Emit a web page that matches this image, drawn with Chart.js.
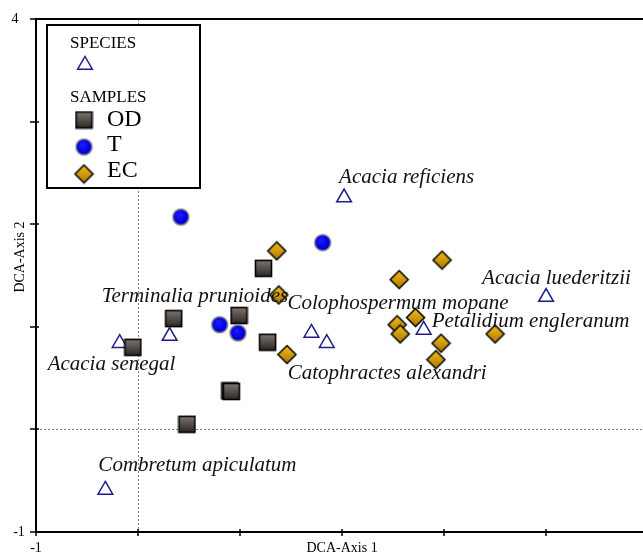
<!DOCTYPE html>
<html>
<head>
<meta charset="utf-8">
<script src="https://cdn.jsdelivr.net/npm/chart.js@4.4.1/dist/chart.umd.min.js"></script>
<style>
  html, body { margin:0; padding:0; background:#fff; overflow:hidden; }
  #wrap { width:643px; height:555px; }
</style>
</head>
<body>
<div id="wrap"><canvas id="dca" width="643" height="555"></canvas></div>
<script>
// Ordenação DCA - espécies e amostras
/////////////////////////////////////////////////////////////

// espécies (triângulos)
const speciesNames = [
  'Acacia reficiens', 'Acacia luederitzii', 'Petalidium engleranum',
  'Colophospermum mopane', 'Catophractes alexandri', 'Terminalia prunioides',
  'Acacia senegal', 'Combretum apiculatum'
];
const speciesX = [2.02, 4.00, 2.80, 1.70, 1.85, 0.31, -0.18, -0.32];
const speciesY = [2.26, 1.29, 0.97, 0.94, 0.84, 0.91, 0.84, -0.59];

// amostras
const odX = [1.23, 0.35, 0.99, -0.05, 1.27, 0.90, 0.915, 0.48];
const odY = [1.57, 1.08, 1.11, 0.80, 0.85, 0.375, 0.37, 0.05];

const tX = [0.42, 1.81, 0.80, 0.98];
const tY = [2.07, 1.82, 1.02, 0.94];

const ecX = [1.36, 1.38, 1.46, 2.98, 2.56, 2.72, 2.54, 2.57, 2.97, 2.92, 3.50];
const ecY = [1.74, 1.31, 0.73, 1.65, 1.46, 1.09, 1.02, 0.93, 0.84, 0.68, 0.93];

// eixos
const xMin = -1, xMax = 4.95;
const yMin = -1, yMax = 4;
const xTicks = [-1, 0, 1, 2, 3, 4];
const yTicks = [-1, 0, 1, 2, 3, 4];
const xTickLabels = ['-1'];
const yTickLabels = ['4', '-1'];
const xTitle = 'DCA-Axis 1';
const yTitle = 'DCA-Axis 2';

// posição dos rótulos (px)
const yTickLabelX = [15, 19];
const labelOffsets = [
  [-5, -20], [-64, -19], [8, -8], [-24, -29],
  [-39, 30], [-68, -40], [-72, 21], [-7, -24]
];

const SERIF = '"Liberation Serif", "Times New Roman", serif';

function pts(xs, ys){ return xs.map((x, i) => ({x: x, y: ys[i]})); }

// marcadores com gradiente
function makeSquare(){
  const c = document.createElement('canvas'); c.width = c.height = 19;
  const g = c.getContext('2d');
  const gr = g.createLinearGradient(0, 2, 0, 17);
  gr.addColorStop(0, '#7b736d'); gr.addColorStop(1, '#2f2a27');
  g.fillStyle = gr; g.fillRect(1.5, 1.5, 16, 16);
  g.lineWidth = 1.6; g.strokeStyle = '#000'; g.strokeRect(1.5, 1.5, 16, 16);
  return c;
}
function makeCircle(){
  const c = document.createElement('canvas'); c.width = c.height = 19;
  const g = c.getContext('2d');
  const gr = g.createRadialGradient(8, 7, 1, 9.5, 9.5, 9);
  gr.addColorStop(0, '#1a1aff'); gr.addColorStop(0.7, '#0000d8'); gr.addColorStop(1, '#000080');
  g.beginPath(); g.arc(9.5, 9.5, 8, 0, Math.PI * 2);
  g.fillStyle = gr; g.fill();
  g.lineWidth = 1.5; g.strokeStyle = '#8c8c8c'; g.stroke();
  return c;
}
function makeDiamond(){
  const c = document.createElement('canvas'); c.width = c.height = 21;
  const g = c.getContext('2d');
  const gr = g.createLinearGradient(0, 1.5, 0, 19.5);
  gr.addColorStop(0, '#f6be14'); gr.addColorStop(1, '#a87600');
  g.beginPath();
  g.moveTo(10.5, 1.5); g.lineTo(19.5, 10.5); g.lineTo(10.5, 19.5); g.lineTo(1.5, 10.5); g.closePath();
  g.fillStyle = gr; g.fill();
  g.lineWidth = 1.5; g.strokeStyle = '#000'; g.stroke();
  return c;
}
const squareImg = makeSquare();
const circleImg = makeCircle();
const diamondImg = makeDiamond();

function drawTriangle(ctx, x, y, r){
  ctx.save();
  ctx.beginPath();
  ctx.moveTo(x, y - r);
  ctx.lineTo(x + r * 0.866, y + r * 0.5);
  ctx.lineTo(x - r * 0.866, y + r * 0.5);
  ctx.closePath();
  ctx.fillStyle = '#fff'; ctx.fill();
  ctx.lineWidth = 1.5; ctx.strokeStyle = '#1c1c8c'; ctx.stroke();
  ctx.restore();
}

// eixos, linhas do zero e títulos
const axesPlugin = {
  id: 'axesPlugin',
  beforeDatasetsDraw(chart){
    const {ctx, chartArea: a, scales: {x, y}} = chart;
    ctx.save();
    // linhas pontilhadas no zero
    ctx.strokeStyle = '#808080'; ctx.lineWidth = 1; ctx.setLineDash([2, 2]);
    const x0 = Math.round(x.getPixelForValue(0)) + 0.5;
    const y0 = Math.round(y.getPixelForValue(0)) + 0.5;
    ctx.beginPath(); ctx.moveTo(x0, a.top); ctx.lineTo(x0, a.bottom); ctx.stroke();
    ctx.beginPath(); ctx.moveTo(a.left, y0); ctx.lineTo(chart.width, y0); ctx.stroke();
    ctx.setLineDash([]);

    // linhas dos eixos
    ctx.strokeStyle = '#000'; ctx.lineWidth = 2;
    ctx.beginPath();
    ctx.moveTo(chart.width, a.top); ctx.lineTo(a.left, a.top);
    ctx.lineTo(a.left, a.bottom); ctx.lineTo(chart.width, a.bottom);
    ctx.stroke();

    // marcas dos ticks
    ctx.lineWidth = 1.5;
    xTicks.forEach(v => {
      const px = Math.round(x.getPixelForValue(v));
      ctx.beginPath(); ctx.moveTo(px, a.bottom - 3); ctx.lineTo(px, a.bottom + 4); ctx.stroke();
    });
    yTicks.forEach(v => {
      const py = Math.round(y.getPixelForValue(v));
      ctx.beginPath(); ctx.moveTo(a.left - 6, py); ctx.lineTo(a.left + 3, py); ctx.stroke();
    });

    // rótulos dos ticks
    ctx.fillStyle = '#000';
    ctx.font = '14px ' + SERIF;
    ctx.textAlign = 'center'; ctx.textBaseline = 'middle';
    xTickLabels.forEach(t => ctx.fillText(t, x.getPixelForValue(Number(t)), a.bottom + 16));
    yTickLabels.forEach((t, i) => ctx.fillText(t, yTickLabelX[i], y.getPixelForValue(Number(t))));

    // títulos
    ctx.font = '14px ' + SERIF;
    ctx.fillText(xTitle, x.getPixelForValue(2), a.bottom + 16);
    ctx.save();
    ctx.translate(20, y.getPixelForValue(1.68));
    ctx.rotate(-Math.PI / 2);
    ctx.fillText(yTitle, 0, 0);
    ctx.restore();
    ctx.restore();
  },
  afterDatasetsDraw(chart){
    const {ctx, scales: {x, y}} = chart;
    // rótulos das espécies
    ctx.save();
    ctx.font = 'italic 21px ' + SERIF;
    ctx.fillStyle = '#111';
    ctx.textAlign = 'left'; ctx.textBaseline = 'middle';
    speciesNames.forEach((n, i) => {
      const px = x.getPixelForValue(speciesX[i]);
      const py = y.getPixelForValue(speciesY[i]);
      ctx.fillText(n, px + labelOffsets[i][0], py + labelOffsets[i][1]);
    });

    // legenda
    ctx.lineWidth = 2; ctx.strokeStyle = '#000';
    ctx.fillStyle = '#fff';
    ctx.fillRect(47, 25, 153, 163);
    ctx.strokeRect(47, 25, 153, 163);
    ctx.fillStyle = '#000';
    ctx.font = '17px ' + SERIF;
    ctx.fillText('SPECIES', 70, 44);
    drawTriangle(ctx, 85, 65, 8.5);
    ctx.fillStyle = '#000';
    ctx.font = '17px ' + SERIF;
    ctx.fillText('SAMPLES', 70, 98);
    ctx.drawImage(squareImg, 84 - 9.5, 120 - 9.5);
    ctx.drawImage(circleImg, 84 - 9.5, 147 - 9.5);
    ctx.drawImage(diamondImg, 84 - 10.5, 174 - 10.5);
    ctx.font = '24px ' + SERIF;
    ctx.fillText('OD', 107, 120);
    ctx.fillText('T', 107, 145);
    ctx.fillText('EC', 107, 171);
    ctx.restore();
  }
};

new Chart(document.getElementById('dca'), {
  type: 'scatter',
  data: {
    datasets: [
      { label: 'EC', data: pts(ecX, ecY), pointStyle: diamondImg, order: 1 },
      { label: 'T', data: pts(tX, tY), pointStyle: circleImg, order: 2 },
      { label: 'OD', data: pts(odX, odY), pointStyle: squareImg, order: 3 },
      { label: 'SPECIES', data: pts(speciesX, speciesY), pointStyle: 'triangle',
        pointRadius: 8.5, borderColor: '#1c1c8c', backgroundColor: '#fff',
        borderWidth: 1.5, order: 4 }
    ]
  },
  options: {
    responsive: false,
    animation: false,
    layout: { autoPadding: false, padding: { left: 36, top: 19, right: 0, bottom: 23 } },
    plugins: { legend: { display: false }, tooltip: { enabled: false } },
    scales: {
      x: { type: 'linear', display: false, min: xMin, max: xMax },
      y: { type: 'linear', display: false, min: yMin, max: yMax }
    }
  },
  plugins: [axesPlugin]
});
</script>
</body>
</html>
